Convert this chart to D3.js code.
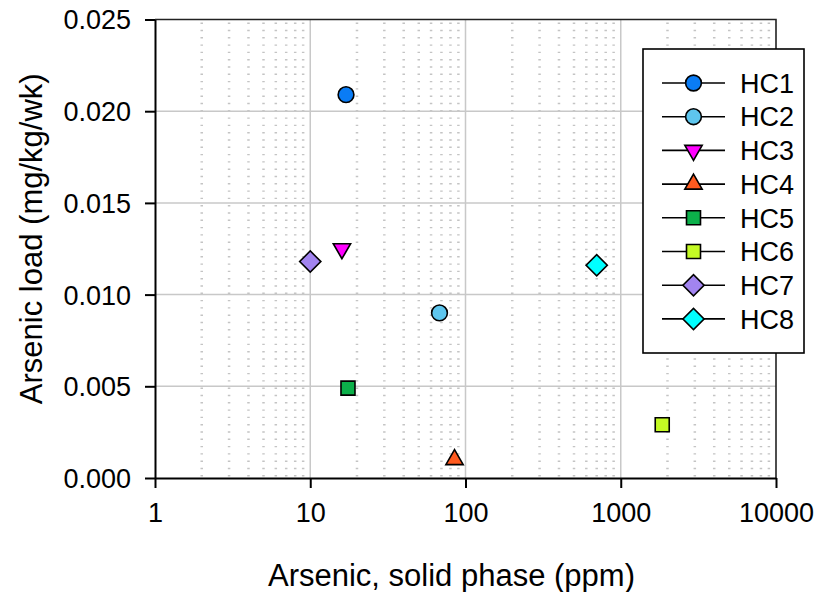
<!DOCTYPE html>
<html>
<head>
<meta charset="utf-8">
<script src="https://cdn.jsdelivr.net/npm/d3@7"></script>
<style>
  html, body { margin: 0; padding: 0; background: #ffffff; }
  svg { display: block; font-family: Arial, "Liberation Sans", Helvetica, sans-serif; }
</style>
</head>
<body>
<svg id="chart" width="814" height="592"></svg>
<script>
// Sites and their measurements
const sites = ["HC1", "HC2", "HC3", "HC4", "HC5", "HC6", "HC7", "HC8"];
const solidPhase = [17, 68, 16, 85, 17.5, 1850, 10, 700];          // ppm
const arsenicLoad = [0.0209, 0.0090, 0.0125, 0.0010, 0.0049, 0.0029, 0.0118, 0.0116]; // mg/kg/wk
const markerShapes = ["circle", "circle", "triangleDown", "triangleUp", "square", "square", "diamond", "diamond"];
const markerColors = ["#0a7cf5", "#5ec6ee", "#ff00ff", "#ff5a1f", "#0cb04a", "#c4fa24", "#a284f0", "#00ffff"];

const xTicks = [1, 10, 100, 1000, 10000];
const yTicks = [0.000, 0.005, 0.010, 0.015, 0.020, 0.025];

(function () {
const svg = d3.select("#chart");
const plotLeft = 155, plotRight = 776, plotTop = 19.5, plotBottom = 478;

const x = d3.scaleLog().domain([1, 10000]).range([plotLeft, plotRight]);
const y = d3.scaleLinear().domain([0, 0.025]).range([plotBottom, plotTop]);

// Minor vertical grid (2..9 in each decade), dotted
const minor = [];
[1, 10, 100, 1000].forEach(d => { for (let k = 2; k <= 9; k++) minor.push(k * d); });
svg.append("g")
  .selectAll("line").data(minor).join("line")
  .attr("x1", d => x(d)).attr("x2", d => x(d))
  .attr("y1", plotTop + 3).attr("y2", plotBottom)
  .attr("stroke", "#c4c4c4").attr("stroke-width", 2.5)
  .attr("stroke-dasharray", "1.4 5.9");

// Major grid
svg.append("g")
  .selectAll("line").data([10, 100, 1000]).join("line")
  .attr("x1", d => x(d)).attr("x2", d => x(d))
  .attr("y1", plotTop).attr("y2", plotBottom)
  .attr("stroke", "#c8c8c8").attr("stroke-width", 1.5);
svg.append("g")
  .selectAll("line").data(yTicks.filter(v => v > 0 && v < 0.025)).join("line")
  .attr("x1", plotLeft).attr("x2", plotRight)
  .attr("y1", d => y(d)).attr("y2", d => y(d))
  .attr("stroke", "#c8c8c8").attr("stroke-width", 1.5);

// Frame (top and right)
svg.append("path")
  .attr("d", `M${plotLeft},${plotTop}H${plotRight}V${plotBottom}`)
  .attr("fill", "none").attr("stroke", "#222").attr("stroke-width", 1.6);

// Axes
const yAxis = d3.axisLeft(y).tickValues(yTicks).tickFormat(d3.format(".3f"))
  .tickSize(10).tickSizeOuter(0).tickPadding(14);
const gy = svg.append("g").attr("transform", `translate(${plotLeft},0)`).call(yAxis);

const xAxis = d3.axisBottom(x).tickValues(xTicks).tickFormat(d3.format("d"))
  .tickSize(10).tickSizeOuter(0).tickPadding(15);
const gx = svg.append("g").attr("transform", `translate(0,${plotBottom})`).call(xAxis);

[gx, gy].forEach(g => {
  g.select(".domain").attr("stroke", "#000").attr("stroke-width", 2);
  g.selectAll(".tick line").attr("stroke", "#000").attr("stroke-width", 2);
  g.selectAll(".tick text").attr("fill", "#000")
    .style("font-size", "27px").style("font-family", "Arial, 'Liberation Sans', sans-serif");
});
gy.selectAll(".tick text").attr("dy", "0.35em");

// Axis titles
svg.append("text")
  .attr("transform", `translate(${(plotLeft + plotRight) / 2 - 14},586)`)
  .attr("text-anchor", "middle")
  .style("font-size", "31px")
  .text("Arsenic, solid phase (ppm)");
svg.append("text")
  .attr("transform", `translate(42,${(plotTop + plotBottom) / 2 - 10}) rotate(-90)`)
  .attr("text-anchor", "middle")
  .style("font-size", "31px")
  .text("Arsenic load (mg/kg/wk)");

// Marker factory
function markerPath(shape) {
  switch (shape) {
    case "circle": return d3.symbol(d3.symbolCircle, 195)();
    case "square": return d3.symbol(d3.symbolSquare, 196)();
    case "diamond": return d3.symbol(d3.symbolSquare, 225)();
    case "triangleUp":
    case "triangleDown": return d3.symbol(d3.symbolTriangle, 130)();
  }
}
function markerRotation(shape) {
  if (shape === "diamond") return 45;
  if (shape === "triangleDown") return 180;
  return 0;
}

const idx = d3.range(sites.length);

// Data points
svg.append("g")
  .selectAll("path").data(idx).join("path")
  .attr("d", i => markerPath(markerShapes[i]))
  .attr("transform", i => `translate(${x(solidPhase[i])},${y(arsenicLoad[i])}) rotate(${markerRotation(markerShapes[i])})`)
  .attr("fill", i => markerColors[i])
  .attr("stroke", "#000").attr("stroke-width", 1.6);

// Legend
const lg = svg.append("g");
lg.append("rect")
  .attr("x", 643).attr("y", 49).attr("width", 161).attr("height", 304)
  .attr("fill", "#fff").attr("stroke", "#000").attr("stroke-width", 1.6);
const rowY = i => 83 + i * 33.7;
const items = lg.selectAll("g.item").data(idx).join("g").attr("class", "item")
  .attr("transform", i => `translate(0,${rowY(i)})`);
items.append("line")
  .attr("x1", 662).attr("x2", 725).attr("y1", 0).attr("y2", 0)
  .attr("stroke", "#000").attr("stroke-width", 1.6);
items.append("path")
  .attr("d", i => markerPath(markerShapes[i]))
  .attr("transform", i => `translate(693.5,0) rotate(${markerRotation(markerShapes[i])})`)
  .attr("fill", i => markerColors[i])
  .attr("stroke", "#000").attr("stroke-width", 1.6);
items.append("text")
  .attr("x", 740).attr("y", 0).attr("dy", "0.36em")
  .style("font-size", "27px")
  .text(i => sites[i]);
})();
</script>
</body>
</html>
